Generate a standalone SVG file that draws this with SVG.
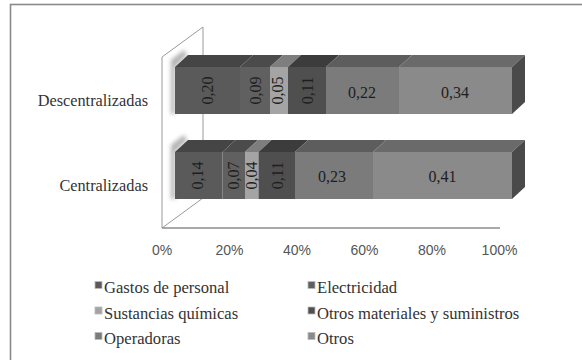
<svg xmlns="http://www.w3.org/2000/svg" width="582" height="360" viewBox="0 0 582 360">
<defs>
<style>
.lbl{font-size:16px;fill:#1e1e1e}
.cat{font-size:16.3px;fill:#333;text-anchor:end}
.ax{font-size:14px;fill:#555;text-anchor:middle}
.leg{font-size:16.6px;fill:#333}
.wall{fill:none;stroke:#9a9a9a;stroke-width:1}
.c1{fill:#5a5a5a}.t1{fill:#454545}
.c2{fill:#606060}.t2{fill:#4b4b4b}
.c3{fill:#a4a4a4}.t3{fill:#7e7e7e}
.c4{fill:#4f4f4f}.t4{fill:#3c3c3c}
.c5{fill:#7b7b7b}.t5{fill:#5d5d5d}
.c6{fill:#8a8a8a}.t6{fill:#6a6a6a}
.side{fill:#4a4a4a}
.mk{stroke:#bbb;stroke-width:0.8}
</style>
<filter id="blur" x="-50%" y="-50%" width="200%" height="200%"><feGaussianBlur stdDeviation="2"/></filter>
</defs>
<rect x="0" y="0" width="582" height="360" fill="#fff"/>
<rect id="frame" x="10.5" y="4.5" width="590" height="380" fill="none" stroke="#8a8a8a" stroke-width="1.6"/>

<g id="walls">
<polygon class="wall" points="162,57 203,27 203,198 162,228"/>
<line x1="162" y1="228" x2="500" y2="228" stroke="#8c8c8c" stroke-width="1.5"/>
</g>

<g id="shadows" opacity="0.45" filter="url(#blur)">
<polygon points="171,60 184,50 187,55 175,67 175,114 171,114" fill="#555"/>
<polygon points="171,145 184,135 187,140 175,152 175,199 171,199" fill="#555"/>
</g>

<g id="bar-descentralizadas" font-family="'Liberation Serif', 'Times New Roman', 'DejaVu Serif', serif">
<polygon class="t1" points="175,67 188,55 253,55 240,67"/>
<polygon class="t2" points="240,67 253,55 283,55 270,67"/>
<polygon class="t3" points="270,67 283,55 301,55 288,67"/>
<polygon class="t4" points="288,67 301,55 339,55 326,67"/>
<polygon class="t5" points="326,67 339,55 412,55 399,67"/>
<polygon class="t6" points="399,67 412,55 525,55 512,67"/>
<rect class="c1" x="175" y="67" width="65" height="47"/>
<rect class="c2" x="240" y="67" width="30" height="47"/>
<rect class="c3" x="270" y="67" width="18" height="47"/>
<rect class="c4" x="288" y="67" width="38" height="47"/>
<rect class="c5" x="326" y="67" width="73" height="47"/>
<rect class="c6" x="399" y="67" width="113" height="47"/>
<polygon class="side" points="512,67 525,55 525,102 512,114"/>
<text class="lbl" text-anchor="middle" transform="translate(213,90.5) rotate(-90)">0,20</text>
<text class="lbl" text-anchor="middle" transform="translate(260.5,90.5) rotate(-90)">0,09</text>
<text class="lbl" text-anchor="middle" transform="translate(283,90.5) rotate(-90)">0,05</text>
<text class="lbl" text-anchor="middle" transform="translate(312.5,90.5) rotate(-90)">0,11</text>
<text class="lbl" x="362" y="97.5" text-anchor="middle">0,22</text>
<text class="lbl" x="455" y="97.5" text-anchor="middle">0,34</text>
</g>

<g id="bar-centralizadas" font-family="'Liberation Serif', 'Times New Roman', 'DejaVu Serif', serif">
<polygon class="t1" points="175,152 188,140 235.5,140 222.5,152"/>
<polygon class="t2" points="222.5,152 235.5,140 258,140 245,152"/>
<polygon class="t3" points="245,152 258,140 271.5,140 258.5,152"/>
<polygon class="t4" points="258.5,152 271.5,140 308,140 295,152"/>
<polygon class="t5" points="295,152 308,140 386,140 373,152"/>
<polygon class="t6" points="373,152 386,140 525,140 512,152"/>
<rect class="c1" x="175" y="152" width="47.5" height="47"/>
<rect class="c2" x="222.5" y="152" width="22.5" height="47"/>
<rect class="c3" x="245" y="152" width="13.5" height="47"/>
<rect class="c4" x="258.5" y="152" width="36.5" height="47"/>
<rect class="c5" x="295" y="152" width="78" height="47"/>
<rect class="c6" x="373" y="152" width="139" height="47"/>
<polygon class="side" points="512,152 525,140 525,187 512,199"/>
<text class="lbl" text-anchor="middle" transform="translate(203,175.5) rotate(-90)">0,14</text>
<text class="lbl" text-anchor="middle" transform="translate(238.5,175.5) rotate(-90)">0,07</text>
<text class="lbl" text-anchor="middle" transform="translate(257.2,175.5) rotate(-90)">0,04</text>
<text class="lbl" text-anchor="middle" transform="translate(282.5,175.5) rotate(-90)">0,11</text>
<text class="lbl" x="332" y="181.5" text-anchor="middle">0,23</text>
<text class="lbl" x="442.5" y="181.5" text-anchor="middle">0,41</text>
</g>

<g id="category-labels" font-family="'Liberation Serif', 'Times New Roman', 'DejaVu Serif', serif">
<text class="cat" x="148" y="106">Descentralizadas</text>
<text class="cat" x="148" y="191">Centralizadas</text>
</g>

<g id="axis-labels" font-family="'Liberation Sans', Arial, sans-serif">
<text class="ax" x="162" y="255">0%</text>
<text class="ax" x="229.5" y="255">20%</text>
<text class="ax" x="297" y="255">40%</text>
<text class="ax" x="364.5" y="255">60%</text>
<text class="ax" x="432" y="255">80%</text>
<text class="ax" x="499.5" y="255">100%</text>
</g>

<g id="legend" font-family="'Liberation Serif', 'Times New Roman', 'DejaVu Serif', serif">
<rect class="c1 mk" x="95" y="281.5" width="7" height="7"/>
<text class="leg" x="104" y="293">Gastos de personal</text>
<rect class="c2 mk" x="308" y="281.5" width="7" height="7"/>
<text class="leg" x="317" y="293">Electricidad</text>
<rect class="c3 mk" x="95" y="307" width="7" height="7"/>
<text class="leg" x="104" y="318.5">Sustancias químicas</text>
<rect class="c4 mk" x="308" y="307" width="7" height="7"/>
<text class="leg" x="317" y="318.5">Otros materiales y suministros</text>
<rect class="c5 mk" x="95" y="332.5" width="7" height="7"/>
<text class="leg" x="104" y="344">Operadoras</text>
<rect class="c6 mk" x="308" y="332.5" width="7" height="7"/>
<text class="leg" x="317" y="344">Otros</text>
</g>
</svg>
